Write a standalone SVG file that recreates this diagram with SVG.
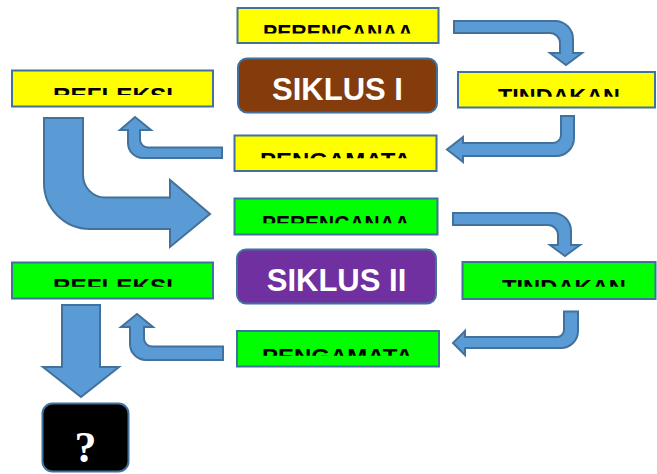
<svg xmlns="http://www.w3.org/2000/svg" width="657" height="474" viewBox="0 0 657 474">
<style>
.box{stroke:#41719C;stroke-width:2}
.y{fill:#FFFF00}
.g{fill:#00FF00}
.lbl{font-family:"Liberation Sans",Arial,sans-serif;font-weight:bold;font-size:22px;fill:#000}
.sik{font-family:"Liberation Sans",Arial,sans-serif;font-weight:bold;font-size:31px;fill:#fff;text-anchor:middle}
.arr{fill:#5B9BD5;stroke:#41719C;stroke-width:2;stroke-linejoin:miter}
</style>
<defs>
<clipPath id="c1"><rect x="237" y="8" width="202" height="25.5"/></clipPath>
<clipPath id="c2"><rect x="458" y="72" width="197" height="24.7"/></clipPath>
<clipPath id="c3"><rect x="12" y="70" width="201" height="25"/></clipPath>
<clipPath id="c4"><rect x="234" y="135" width="203" height="23.3"/></clipPath>
<clipPath id="c5"><rect x="234" y="198" width="204" height="25.3"/></clipPath>
<clipPath id="c6"><rect x="462" y="262" width="194" height="24.7"/></clipPath>
<clipPath id="c7"><rect x="237" y="331" width="203" height="24.7"/></clipPath>
<clipPath id="c8"><rect x="12" y="262" width="201" height="24.7"/></clipPath>
</defs>

<g id="connectors">
<path class="arr" d="M454,21 L555,21 A18,18 0 0 1 573,39 L573,53 L582,53 L566,65 L550,53 L560,53 L560,43 A10,10 0 0 0 550,33 L454,33 Z"/>
<path class="arr" d="M561,116 L574,116 L574,138 A18,18 0 0 1 556,156 L463,156 L463,162 L447,149.5 L463,137 L463,143 L553,143 A8,8 0 0 0 561,135 Z"/>
<path class="arr" d="M222,147.5 L148,147.5 A8,8 0 0 1 140,139.5 L140,130 L151,130 L135,117 L120,130 L128,130 L128,143 A15,15 0 0 0 143,158 L222,158 Z"/>
<path class="arr" d="M44,118 L83,118 L83,175 A22,22.5 0 0 0 105,197.5 L170,197.5 L170,180 L210,214 L170,247 L170,229 L90,229 A46,46 0 0 1 44,183 Z"/>
<path class="arr" d="M453,213 L553,213 A18,18 0 0 1 571,231 L571,245 L580,245 L565,256 L550,245 L558,245 L558,235 A10,10 0 0 0 548,225 L453,225 Z"/>
<path class="arr" d="M564,311.5 L578,311.5 L578,331 A17,17 0 0 1 561,348 L465,348 L465,355 L453,343 L465,331 L465,337 L557,337 A7,7 0 0 0 564,330 Z"/>
<path class="arr" d="M223,346.5 L152,346.5 A8,8 0 0 1 144,338.5 L144,327 L153,327 L137,314 L121,327 L130,327 L130,344 A16,16 0 0 0 146,360 L223,360 Z"/>
<path class="arr" d="M62,305 L100,305 L100,367 L119,367 L81,397 L43,367 L62,367 Z"/>
</g>

<g id="perencanaan1">
<rect class="box y" x="237.5" y="8" width="201" height="35"/>
<text class="lbl" x="263" y="39.8" textLength="150" lengthAdjust="spacingAndGlyphs" clip-path="url(#c1)">PERENCANAA</text>
</g>
<g id="siklus1">
<rect class="box" fill="#843C0C" x="238" y="58.5" width="199" height="54" rx="9"/>
<text class="sik" x="337.5" y="99.5">SIKLUS I</text>
</g>
<g id="tindakan1">
<rect class="box y" x="458" y="72" width="197" height="35.5"/>
<text class="lbl" x="498" y="104" textLength="122" lengthAdjust="spacingAndGlyphs" clip-path="url(#c2)">TINDAKAN</text>
</g>
<g id="refleksi1">
<rect class="box y" x="12" y="70.5" width="201" height="36"/>
<text class="lbl" x="53" y="102.5" textLength="120" lengthAdjust="spacingAndGlyphs" clip-path="url(#c3)">REFLEKSI</text>
</g>
<g id="pengamatan1">
<rect class="box y" x="234.5" y="135.5" width="202" height="35.5"/>
<text class="lbl" x="260" y="167.5" textLength="151" lengthAdjust="spacingAndGlyphs" clip-path="url(#c4)">PENGAMATA</text>
</g>

<g id="perencanaan2">
<rect class="box g" x="234.5" y="198.5" width="203" height="36"/>
<text class="lbl" x="262" y="230.8" textLength="148" lengthAdjust="spacingAndGlyphs" clip-path="url(#c5)">PERENCANAA</text>
</g>
<g id="siklus2">
<rect class="box" fill="#7030A0" x="237" y="249.5" width="199" height="54" rx="9"/>
<text class="sik" x="336.5" y="290.7">SIKLUS II</text>
</g>
<g id="tindakan2">
<rect class="box g" x="462.5" y="262" width="193" height="37"/>
<text class="lbl" x="502" y="295" textLength="124" lengthAdjust="spacingAndGlyphs" clip-path="url(#c6)">TINDAKAN</text>
</g>
<g id="refleksi2">
<rect class="box g" x="12" y="262.5" width="201" height="36"/>
<text class="lbl" x="53" y="294" textLength="120" lengthAdjust="spacingAndGlyphs" clip-path="url(#c8)">REFLEKSI</text>
</g>
<g id="pengamatan2">
<rect class="box g" x="237" y="331" width="202" height="35.5"/>
<text class="lbl" x="262" y="363.5" textLength="151" lengthAdjust="spacingAndGlyphs" clip-path="url(#c7)">PENGAMATA</text>
</g>

<g id="question">
<rect class="box" fill="#000" x="42.5" y="403.5" width="86" height="68" rx="10"/>
<text x="85.5" y="461.5" text-anchor="middle" font-family="'Liberation Serif','Times New Roman',serif" font-weight="bold" font-size="44" fill="#fff">?</text>
</g>
</svg>
